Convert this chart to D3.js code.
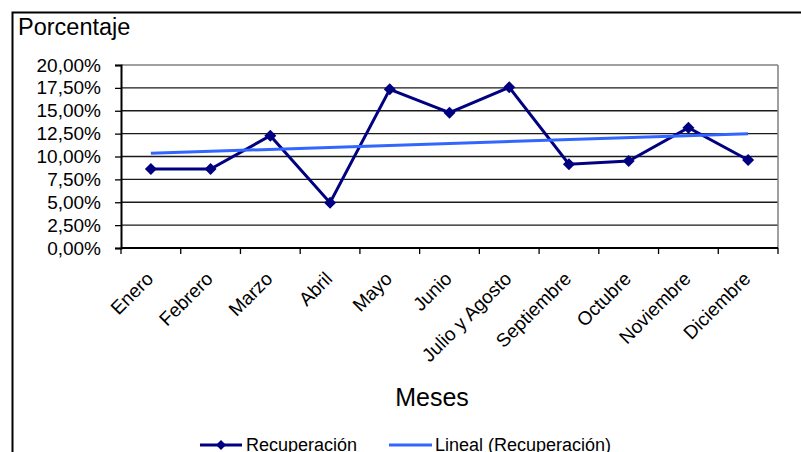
<!DOCTYPE html>
<html>
<head>
<meta charset="utf-8">
<script src="https://cdn.jsdelivr.net/npm/d3@7"></script>
<style>
  html, body { margin: 0; padding: 0; background: #fff; }
  svg { display: block; font-family: "Liberation Sans", Arial, sans-serif; }
</style>
</head>
<body>
<svg id="chart" width="801" height="452"></svg>
<script>
// Monthly recovery rate (%), with its linear trend
const months = ["Enero", "Febrero", "Marzo", "Abril", "Mayo", "Junio",
  "Julio y Agosto", "Septiembre", "Octubre", "Noviembre", "Diciembre"];
const recuperacion = [8.63, 8.63, 12.27, 4.95, 17.34, 14.79, 17.56, 9.15, 9.51, 13.15, 9.62];
const yTicks = [0, 2.5, 5, 7.5, 10, 12.5, 15, 17.5, 20];
const legendLabels = ["Recuperación", "Lineal (Recuperación)"];

const svg = d3.select("#chart");
const plot = { left: 121, top: 65, right: 778, bottom: 248 };

// Outer chart frame (runs past the right and bottom of the view)
svg.append("rect")
  .attr("x", 12.5).attr("y", 12.5).attr("width", 820).attr("height", 470)
  .attr("fill", "#fff").attr("stroke", "#000").attr("stroke-width", 2);

const x = d3.scaleBand().domain(months).range([plot.left, plot.right]);
const y = d3.scaleLinear().domain([0, 20]).range([plot.bottom, plot.top]);
const cx = m => x(m) + x.bandwidth() / 2;

// Gridlines
svg.append("g").selectAll("line").data(yTicks.slice(1)).join("line")
  .attr("x1", plot.left).attr("x2", plot.right)
  .attr("y1", d => y(d)).attr("y2", d => y(d))
  .attr("stroke", (d, i) => i === yTicks.length - 2 ? "#808080" : "#1a1a1a")
  .attr("stroke-width", 1.3);

// Right edge of the plot area
svg.append("line")
  .attr("x1", plot.right).attr("x2", plot.right)
  .attr("y1", plot.top).attr("y2", plot.bottom)
  .attr("stroke", "#808080").attr("stroke-width", 1.5);

// Y axis
const yAxis = d3.axisLeft(y).tickValues(yTicks).tickSize(6).tickPadding(14)
  .tickFormat(d => d3.format(".2f")(d).replace(".", ",") + "%");
const gy = svg.append("g").attr("transform", `translate(${plot.left},0)`).call(yAxis);
gy.select(".domain").attr("stroke", "#000").attr("stroke-width", 2);
gy.selectAll(".tick line").attr("stroke", "#000").attr("stroke-width", 1.3);
gy.selectAll(".tick text").attr("font-size", 19).attr("fill", "#000")
  .attr("font-family", "Liberation Sans, Arial, sans-serif");

// X axis: ticks on category boundaries
const bounds = months.map(m => x(m)).concat([plot.right]);
const gx = svg.append("g");
gx.append("line")
  .attr("x1", plot.left).attr("x2", plot.right)
  .attr("y1", plot.bottom).attr("y2", plot.bottom)
  .attr("stroke", "#000").attr("stroke-width", 2);
gx.selectAll("line.tick").data(bounds).join("line").attr("class", "tick")
  .attr("x1", d => d).attr("x2", d => d)
  .attr("y1", plot.bottom).attr("y2", plot.bottom + 6)
  .attr("stroke", "#000").attr("stroke-width", 1.3);
gx.selectAll("text").data(months).join("text")
  .attr("transform", d => `translate(${cx(d) + 3.5},280) rotate(-45)`)
  .attr("text-anchor", "end")
  .attr("font-size", 19)
  .attr("fill", "#000")
  .text(d => d);

// Axis titles
svg.append("text").attr("x", 18).attr("y", 35)
  .attr("font-size", 23.5).attr("fill", "#000").text("Porcentaje");
svg.append("text").attr("x", 432).attr("y", 406).attr("text-anchor", "middle")
  .attr("font-size", 25).attr("fill", "#000").text("Meses");

// Least-squares linear trend of the series
const xs = recuperacion.map((_, i) => i + 1);
const mx = d3.mean(xs), my = d3.mean(recuperacion);
const slope = d3.sum(xs, (xi, i) => (xi - mx) * (recuperacion[i] - my)) /
  d3.sum(xs, xi => (xi - mx) ** 2);
const intercept = my - slope * mx;
const trend = months.map((m, i) => ({ m, v: intercept + slope * (i + 1) }));

const trendColor = "#3366ff";
const seriesColor = "#000080";

// Series line and markers
const pts = months.map((m, i) => ({ m, v: recuperacion[i] }));
svg.append("path").datum(pts)
  .attr("fill", "none").attr("stroke", seriesColor).attr("stroke-width", 3)
  .attr("stroke-linejoin", "miter")
  .attr("d", d3.line().x(d => cx(d.m)).y(d => y(d.v)));

svg.append("path").datum([trend[0], trend[trend.length - 1]])
  .attr("fill", "none").attr("stroke", trendColor).attr("stroke-width", 3)
  .attr("d", d3.line().x(d => cx(d.m)).y(d => y(d.v)));

const diamond = (px, py, r) => `M${px},${py - r}L${px + r},${py}L${px},${py + r}L${px - r},${py}Z`;
svg.append("g").selectAll("path").data(pts).join("path")
  .attr("d", d => diamond(cx(d.m), y(d.v), 6))
  .attr("fill", seriesColor);

// Legend
const lg = svg.append("g");
lg.append("line").attr("x1", 200).attr("x2", 242).attr("y1", 445).attr("y2", 445)
  .attr("stroke", seriesColor).attr("stroke-width", 3);
lg.append("path").attr("d", diamond(221, 445, 5)).attr("fill", seriesColor);
lg.append("text").attr("x", 246).attr("y", 451).attr("font-size", 18)
  .attr("fill", "#000").text(legendLabels[0]);
lg.append("line").attr("x1", 389).attr("x2", 432).attr("y1", 445).attr("y2", 445)
  .attr("stroke", trendColor).attr("stroke-width", 3);
lg.append("text").attr("x", 435).attr("y", 451).attr("font-size", 18)
  .attr("fill", "#000").text(legendLabels[1]);
</script>
</body>
</html>
